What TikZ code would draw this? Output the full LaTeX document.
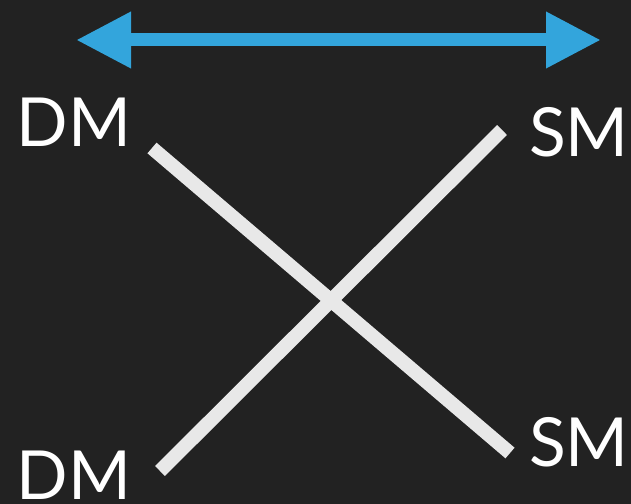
\documentclass[tikz,border=0pt]{standalone}
\usepackage{fontspec}
\setmainfont{Lato}
\usetikzlibrary{arrows.meta}
\definecolor{bgdark}{HTML}{222222}
\definecolor{crossgray}{HTML}{E8E8E8}
\definecolor{arrowblue}{HTML}{33A5DC}

\begin{document}
\begin{tikzpicture}[x=1bp,y=-1bp,
  lbl/.style={text=white,inner sep=0pt,font=\fontsize{68}{68}\selectfont},
  bar/.style={draw=crossgray,line width=14bp},
  span/.style={draw=arrowblue,line width=13bp,{Triangle[length=55bp,width=53bp]}-{Triangle[length=55bp,width=53bp]}}
]
\fill[bgdark] (0,0) rectangle (631,504);
\useasboundingbox (0,0) rectangle (631,504);

% labels
\node[lbl] (dmTop) at (74,122) {DM};
\node[lbl] (smTop) at (579,132) {SM};
\node[lbl] (dmBot) at (74,475) {DM};
\node[lbl] (smBot) at (579,442) {SM};

% ends of the two bars
\coordinate (a1) at (152,148);
\coordinate (a2) at (510,453);
\coordinate (b1) at (160,471);
\coordinate (b2) at (502,130);
\draw[bar] (a1) -- (a2);
\draw[bar] (b1) -- (b2);

% top arrow
\coordinate (left) at (76,40);
\coordinate (right) at (601,40);
\draw[span] (left) -- (right);
\end{tikzpicture}
\end{document}
